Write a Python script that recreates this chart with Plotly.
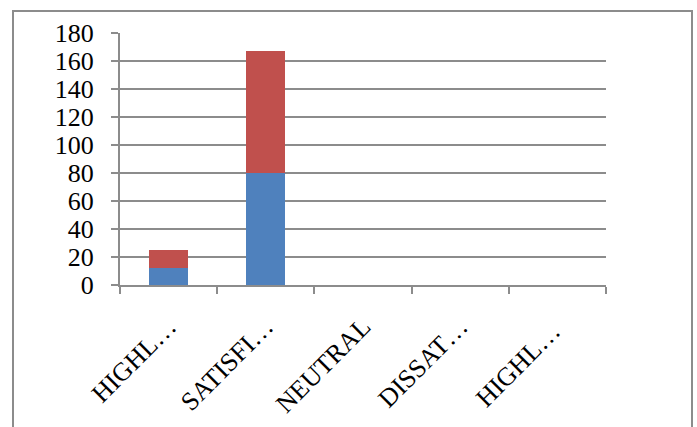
import plotly.graph_objects as go

# Survey responses by satisfaction level (stacked)
categories = ["HIGHL…", "SATISFI…", "NEUTRAL", "DISSAT…", "HIGHL… "]
series1_values = [12, 80, 0, 0, 0]
series2_values = [13, 87, 0, 0, 0]
y_ticks = [0, 20, 40, 60, 80, 100, 120, 140, 160, 180]

W, H = 697, 427
L, R, T, B = 120, 91, 33, 142
plot_w = W - L - R
plot_h = H - T - B

def px_to_paper_x(px):
    return (px - L) / plot_w

def px_to_paper_y(py):
    return (H - B - py) / plot_h

grid_color = "#8c8c8c"
font_family = "Liberation Serif, Times New Roman, serif"

fig = go.Figure()
fig.add_trace(go.Bar(x=categories, y=series1_values, name="Series 1",
                     marker=dict(color="#4F81BD", line=dict(width=0))))
fig.add_trace(go.Bar(x=categories, y=series2_values, name="Series 2",
                     marker=dict(color="#C0504D", line=dict(width=0))))

fig.update_layout(
    width=W, height=H,
    margin=dict(l=L, r=R, t=T, b=B, autoexpand=False),
    barmode="stack",
    bargap=0.6,
    showlegend=False,
    plot_bgcolor="white",
    paper_bgcolor="white",
    font=dict(family=font_family, size=22, color="black"),
    shapes=[
        # outer frame around the chart area
        dict(type="rect", xref="paper", yref="paper",
             x0=px_to_paper_x(13), x1=px_to_paper_x(692),
             y0=px_to_paper_y(440), y1=px_to_paper_y(11),
             line=dict(color=grid_color, width=2), fillcolor="rgba(0,0,0,0)",
             layer="below"),
    ],
)

fig.update_xaxes(
    type="category",
    tickangle=-45,
    tickson="boundaries",
    ticks="outside", ticklen=7, tickwidth=2, tickcolor=grid_color,
    showline=True, linecolor=grid_color, linewidth=2,
    showgrid=False,
    ticklabelstandoff=14,
    tickfont=dict(family=font_family, size=26, color="black"),
)

fig.update_yaxes(
    range=[0, 180],
    tickvals=y_ticks,
    ticks="outside", ticklen=7, tickwidth=2, tickcolor=grid_color,
    showline=True, linecolor=grid_color, linewidth=2,
    showgrid=True, gridcolor=grid_color, gridwidth=2,
    zeroline=False,
    ticklabelstandoff=12,
    tickfont=dict(family=font_family, size=26, color="black"),
)

fig.write_html("out.html")
